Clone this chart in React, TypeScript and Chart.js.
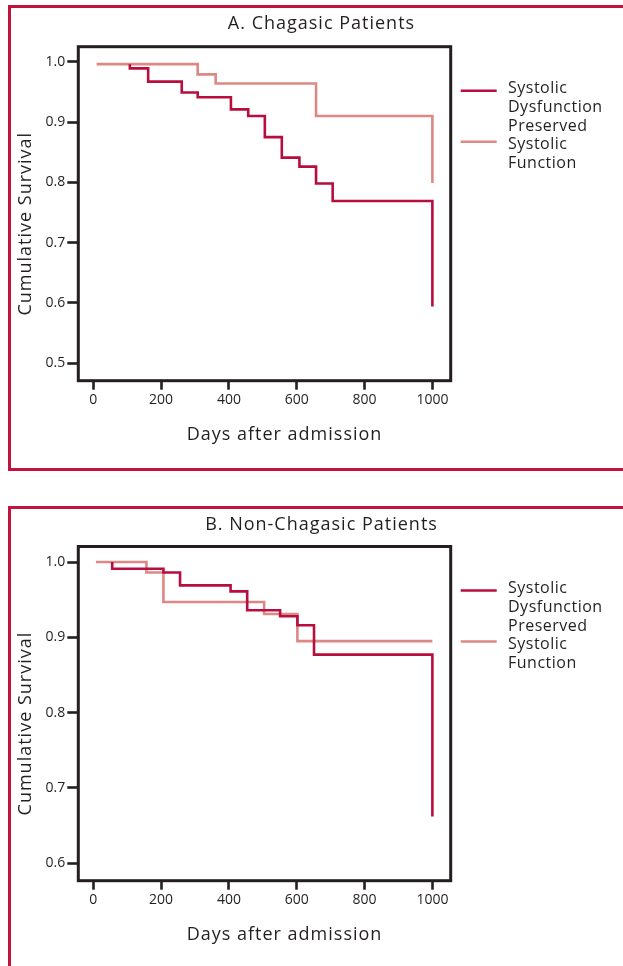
import React, { useEffect, useRef } from "react";
import { Chart, registerables } from "chart.js";

Chart.register(...registerables);

const FONT = "'Open Sans', sans-serif";
const INK = "#231f20";
const DARK = "#b80d3f";
const LIGHT = "#dc8884";
const BORDER_RED = "#c0143f";

// ---- shared axes ----
const X_TICKS = [0, 200, 400, 600, 800, 1000];
const X_TITLE = "Days after admission";
const Y_TITLE = "Cumulative Survival";
const DYS_LABEL = ["Systolic", "Dysfunction"];
const PRES_LABEL = ["Preserved", "Systolic", "Function"];

// ---- Panel A: Chagasic patients ----
const A_TITLE = "A. Chagasic Patients";
const A_Y_TICKS = [0.5, 0.6, 0.7, 0.8, 0.9, 1.0];
const A_DYS_DAYS = [108, 108, 162, 261, 308, 406, 457, 506, 556, 608, 657, 706, 1000, 1000];
const A_DYS_SURV = [0.996, 0.989, 0.967, 0.949, 0.941, 0.921, 0.91, 0.875, 0.841, 0.826, 0.798, 0.769, 0.769, 0.594];
const A_PRES_DAYS = [10, 308, 361, 657, 1000, 1000];
const A_PRES_SURV = [0.996, 0.979, 0.964, 0.91, 0.91, 0.799];

// ---- Panel B: Non-Chagasic patients ----
const B_TITLE = "B. Non-Chagasic Patients";
const B_Y_TICKS = [0.6, 0.7, 0.8, 0.9, 1.0];
const B_DYS_DAYS = [56, 56, 207, 256, 405, 454, 551, 602, 651, 1000, 1000];
const B_DYS_SURV = [1.0, 0.991, 0.986, 0.969, 0.961, 0.936, 0.928, 0.916, 0.877, 0.877, 0.662];
const B_PRES_DAYS = [8, 157, 207, 504, 602, 1000];
const B_PRES_SURV = [1.0, 0.986, 0.947, 0.931, 0.895, 0.895];

const CANVAS_W = 621;
const CANVAS_H = 460;

const toPoints = (xs: number[], ys: number[]) => xs.map((x, i) => ({ x, y: ys[i] }));

const setSpacing = (ctx: any, v: string) => {
  if ("letterSpacing" in ctx) ctx.letterSpacing = v;
};

const decorPlugin = {
  id: "decor",
  beforeDatasetsDraw(chart: any) {
    const { ctx, chartArea: a } = chart;
    ctx.save();
    ctx.strokeStyle = INK;
    ctx.lineWidth = 3;
    ctx.strokeRect(a.left, a.top, a.right - a.left, a.bottom - a.top);
    ctx.restore();
  },
  afterDraw(chart: any, _args: any, opts: any) {
    const { ctx, chartArea: a, width } = chart;
    ctx.save();
    ctx.fillStyle = INK;
    ctx.font = `18px ${FONT}`;
    setSpacing(ctx, "1px");
    ctx.textAlign = "center";
    ctx.textBaseline = "alphabetic";
    // panel title
    ctx.fillText(opts.title, width / 2, 21.3);
    // x axis title
    ctx.fillText(X_TITLE, (a.left + a.right) / 2 + 20, a.bottom + 59.3);
    // y axis title
    ctx.save();
    ctx.translate(20, (a.top + a.bottom) / 2 + 10);
    ctx.rotate(-Math.PI / 2);
    ctx.fillText(Y_TITLE, 0, 0);
    ctx.restore();
    // legend
    const ds = chart.data.datasets;
    const lines = [DYS_LABEL, PRES_LABEL];
    const markerDy = [44, 95];
    ctx.font = `16px ${FONT}`;
    setSpacing(ctx, "0.5px");
    ctx.textAlign = "left";
    let row = 0;
    lines.forEach((lbl, i) => {
      ctx.strokeStyle = ds[i].borderColor;
      ctx.lineWidth = 2.6;
      ctx.beginPath();
      ctx.moveTo(a.right + 10, a.top + markerDy[i]);
      ctx.lineTo(a.right + 46, a.top + markerDy[i]);
      ctx.stroke();
      lbl.forEach((t) => {
        ctx.fillText(t, a.right + 57.3, a.top + 46.6 + row * 18.7);
        row++;
      });
    });
    ctx.restore();
  },
};

type PanelProps = {
  title: string;
  yTicks: number[];
  yMin: number;
  yMax: number;
  top: number;
  xHeight: number;
  dys: { x: number; y: number }[];
  pres: { x: number; y: number }[];
};

function Panel(p: PanelProps) {
  const ref = useRef<HTMLCanvasElement | null>(null);
  useEffect(() => {
    if (!ref.current) return;
    const tickFont = { family: FONT, size: 14 };
    const chart = new Chart(ref.current, {
      type: "line",
      data: {
        datasets: [
          {
            label: DYS_LABEL.join(" "),
            data: p.dys,
            borderColor: DARK,
            borderWidth: 2.6,
            stepped: "before",
            pointRadius: 0,
            fill: false,
          },
          {
            label: PRES_LABEL.join(" "),
            data: p.pres,
            borderColor: LIGHT,
            borderWidth: 2.6,
            stepped: "before",
            pointRadius: 0,
            fill: false,
          },
        ],
      },
      options: {
        animation: false,
        responsive: false,
        devicePixelRatio: 1,
        parsing: false as any,
        layout: { padding: { left: 0, top: p.top, right: 181.3, bottom: 0 } },
        plugins: {
          legend: { display: false },
          tooltip: { enabled: false },
          title: { display: false },
          decor: { title: p.title },
        } as any,
        scales: {
          x: {
            type: "linear",
            min: -44,
            max: 1054,
            afterBuildTicks: (s: any) => {
              s.ticks = X_TICKS.map((v) => ({ value: v }));
            },
            afterFit: (s: any) => {
              s.height = p.xHeight;
            },
            grid: {
              drawOnChartArea: false,
              drawTicks: true,
              tickLength: 9,
              tickWidth: 2.6,
              tickColor: INK,
            },
            border: { display: false },
            ticks: {
              font: tickFont,
              color: INK,
              padding: 2,
              maxRotation: 0,
              autoSkip: false,
              callback: (v: any) => String(v),
            },
          },
          y: {
            type: "linear",
            min: p.yMin,
            max: p.yMax,
            afterBuildTicks: (s: any) => {
              s.ticks = p.yTicks.map((v) => ({ value: v }));
            },
            afterFit: (s: any) => {
              s.width = 67.3;
            },
            grid: {
              drawOnChartArea: false,
              drawTicks: true,
              tickLength: 11,
              tickWidth: 2.6,
              tickColor: INK,
            },
            border: { display: false },
            ticks: {
              font: tickFont,
              color: INK,
              padding: 2,
              autoSkip: false,
              callback: (v: any) => Number(v).toFixed(1),
            },
          },
        },
      },
      plugins: [decorPlugin],
    } as any);
    return () => chart.destroy();
  }, []);
  return (
    <canvas
      ref={ref}
      width={CANVAS_W}
      height={CANVAS_H}
      style={{ position: "absolute", left: 0, top: 0, width: CANVAS_W, height: CANVAS_H }}
    />
  );
}

export default function App() {
  const panelStyle = (top: number, height: number): React.CSSProperties => ({
    position: "absolute",
    left: 8,
    top,
    width: CANVAS_W + 6,
    height,
    border: `3px solid ${BORDER_RED}`,
    boxSizing: "border-box",
    background: "#fff",
  });
  return (
    <div
      style={{
        position: "absolute",
        left: 0,
        top: 0,
        width: 623,
        height: 966,
        overflow: "hidden",
        background: "#fff",
      }}
    >
      <div style={panelStyle(5, 466)}>
        <Panel
          title={A_TITLE}
          yTicks={A_Y_TICKS}
          yMin={0.4711}
          yMax={1.0249}
          top={38.7}
          xHeight={87.3}
          dys={toPoints(A_DYS_DAYS, A_DYS_SURV)}
          pres={toPoints(A_PRES_DAYS, A_PRES_SURV)}
        />
      </div>
      <div style={panelStyle(506, 475)}>
        <Panel
          title={B_TITLE}
          yTicks={B_Y_TICKS}
          yMin={0.5769}
          yMax={1.0206}
          top={37.5}
          xHeight={88.3}
          dys={toPoints(B_DYS_DAYS, B_DYS_SURV)}
          pres={toPoints(B_PRES_DAYS, B_PRES_SURV)}
        />
      </div>
    </div>
  );
}
